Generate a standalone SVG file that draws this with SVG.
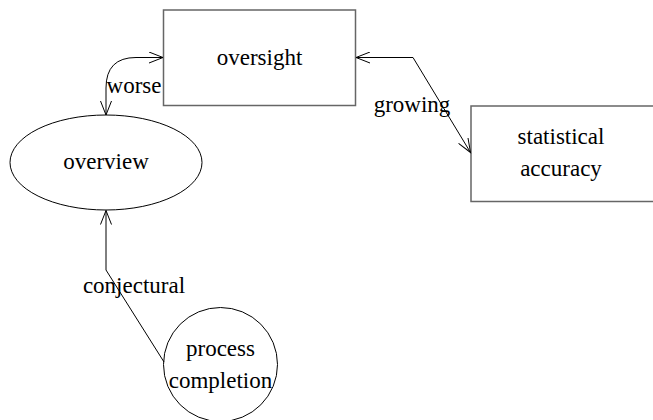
<svg xmlns="http://www.w3.org/2000/svg" width="653" height="420" viewBox="0 0 653 420">
<style>
text{font-family:"Liberation Serif","Times New Roman",serif;font-size:23px;fill:#000;text-anchor:middle;dominant-baseline:central}
.box{fill:#fff;stroke:#666;stroke-width:1.5}
.shape{fill:#fff;stroke:#000;stroke-width:1}
.edge{fill:none;stroke:#000;stroke-width:1}
</style>
<defs>
<marker id="arr" markerWidth="16" markerHeight="12" refX="14" refY="6" orient="auto-start-reverse" markerUnits="userSpaceOnUse">
<path d="M0,0.5 L14,6 L0,11.5" fill="none" stroke="#000" stroke-width="1"/>
</marker>
</defs>
<g id="oversight">
<rect class="box" x="163.5" y="10" width="192" height="95.5"/>
<text x="259.5" y="57">oversight</text>
</g>
<g id="statistical-accuracy">
<rect class="box" x="471" y="106" width="200" height="95.5"/>
<text x="561" y="136">statistical</text>
<text x="561" y="168">accuracy</text>
</g>
<g id="overview">
<ellipse class="shape" cx="106" cy="162.5" rx="96" ry="47.5"/>
<text x="106" y="161">overview</text>
</g>
<g id="process-completion">
<circle class="shape" cx="220.5" cy="364.5" r="57"/>
<text x="220.5" y="348">process</text>
<text x="220.5" y="380">completion</text>
</g>
<g id="connectors">
<path class="edge" d="M106,115 L106,88 Q106,57.5 136,57.5 L163,57.5" marker-start="url(#arr)" marker-end="url(#arr)"/>
<text x="134" y="85">worse</text>
<path class="edge" d="M356,57.5 L413,57.5 L470.5,152.5" marker-start="url(#arr)" marker-end="url(#arr)"/>
<text x="412" y="104">growing</text>
<path class="edge" d="M164,362 L106,270 L106,210.5" marker-end="url(#arr)"/>
<text x="134" y="285">conjectural</text>
</g>
</svg>
